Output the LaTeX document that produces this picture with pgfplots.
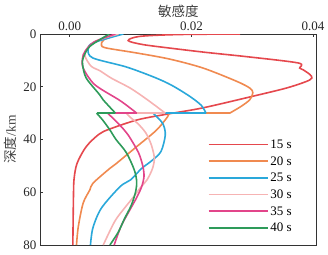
\documentclass[border=0pt]{standalone}
\usepackage{fontspec}
\setmainfont{Liberation Serif}
\newfontfamily\cjk{Noto Sans CJK SC}
\usepackage{pgfplots}
\pgfplotsset{compat=1.18}
\definecolor{cA}{HTML}{E5484D}
\definecolor{cB}{HTML}{F08A50}
\definecolor{cC}{HTML}{2AA8DA}
\definecolor{cD}{HTML}{F6B3B3}
\definecolor{cE}{HTML}{E2458A}
\definecolor{cF}{HTML}{2E9B5A}
\begin{document}
\begin{tikzpicture}
\begin{axis}[
  scale only axis, width=276.7pt, height=211pt,
  xmin=-0.0049, xmax=0.0406, ymin=0, ymax=80, y dir=reverse,
  xtick={0,0.02,0.04}, ytick={0,20,40,60,80},
  scaled x ticks=false,
  xticklabel style={/pgf/number format/.cd,fixed,fixed zerofill,precision=2},
  /pgf/number format/assume math mode=true,
  xticklabel pos=upper, xtick pos=upper, ytick pos=left,
  tick align=inside, major tick length=2.5pt,
  tick label style={font=\fontsize{13}{15}\selectfont, text=black!85},
  xlabel={{\cjk 敏感度}}, ylabel={{\cjk 深度}/km},
  label style={font=\fontsize{13.5}{15}\selectfont, text=black!75},
  xlabel style={yshift=-3pt},
  axis line style={black!80, line width=0.8pt},
  every tick/.style={black!80, line width=0.6pt},
  legend style={draw=none, fill=none, at={(0.595,0.52)}, anchor=north west,
    font=\fontsize{13}{15}\selectfont, row sep=2.7pt,
    nodes={text height=9pt, text depth=1pt, inner sep=2pt}},
  legend image code/.code={\draw[#1] (0pt,0pt) -- (59pt,0pt);},
  legend cell align=left,
  lw/.style={line width=1.6pt},
]
\coordinate (ll) at (axis description cs:0,0);
\coordinate (ur) at (axis description cs:1,1);
% 15 s
\addplot[cA, lw, smooth] coordinates {(0.0280,0) (0.0180,0.2) (0.0115,0.9) (0.0096,2.5) (0.0120,4.0) (0.0170,5.5) (0.0225,7.0) (0.0295,8.7) (0.0376,11.0) (0.0378,12.9) (0.0384,13.6) (0.0395,15.4) (0.0398,16.7) (0.0389,18.0) (0.0356,20.5) (0.0301,23.6) (0.0219,28.0) (0.0162,30.3) (0.0112,32.5) (0.0066,36.0) (0.0048,38.0) (0.0027,42.7) (0.0012,49) (0.0007,55) (0.0006,62) (0.0005,80)};
\addlegendentry{15 s}
% 20 s
\addplot[cB, lw, smooth] coordinates {(0.0080,0) (0.0056,2.2) (0.0052,4.2) (0.0060,5.3) (0.0110,7.2) (0.0164,9.5) (0.0219,12.9) (0.0274,17.9) (0.0296,20.5) (0.0301,22.3) (0.0296,24.9) (0.0282,27.4) (0.0263,30)};
\addlegendentry{20 s}
\addplot[cB, lw, forget plot] coordinates {(0.0263,30) (0.0163,30)};
\addplot[cB, lw, smooth, forget plot] coordinates {(0.0163,30) (0.0161,31.3) (0.0148,35.1) (0.0137,37.6) (0.0110,42.7) (0.0077,49) (0.0063,51.5) (0.0038,56.6) (0.0033,59.1) (0.0022,64.1) (0.0014,73) (0.0011,80)};
% 25 s
\addplot[cC, lw, smooth] coordinates {(0.0088,0) (0.0038,3.4) (0.0030,5.9) (0.0038,9.1) (0.0093,12.5) (0.0140,16.5) (0.0168,19.5) (0.0197,23.6) (0.0216,27) (0.0224,30)};
\addlegendentry{25 s}
\addplot[cC, lw, forget plot] coordinates {(0.0224,30) (0.0137,30)};
\addplot[cC, lw, smooth, forget plot] coordinates {(0.0137,30) (0.0140,30.7) (0.0153,34) (0.0157,38.3) (0.0150,44.5) (0.0135,48) (0.0118,51) (0.0100,55.3) (0.0083,57.8) (0.0052,66) (0.0038,73.5) (0.0034,80)};
% 30 s
\addplot[cD, lw, smooth] coordinates {(0.0080,0) (0.0045,2.5) (0.0027,5.9) (0.0025,8.4) (0.0035,12.2) (0.0050,14) (0.0068,16.7) (0.0100,20.6) (0.0128,25) (0.0157,30)};
\addlegendentry{30 s}
\addplot[cD, lw, forget plot] coordinates {(0.0157,30) (0.0093,30)};
\addplot[cD, lw, smooth, forget plot] coordinates {(0.0093,30) (0.0099,31.5) (0.0112,34) (0.0125,37.5) (0.0134,42) (0.0139,47) (0.0136,51) (0.0127,55.3) (0.0117,58) (0.0104,62) (0.0090,66) (0.0074,71) (0.0055,80)};
% 35 s
\addplot[cE, lw, smooth] coordinates {(0.0075,0) (0.0040,3) (0.0025,6.6) (0.0021,9.1) (0.0022,12.9) (0.0041,19.2) (0.0083,25.3) (0.0110,30)};
\addlegendentry{35 s}
\addplot[cE, lw, forget plot] coordinates {(0.0110,30) (0.0062,30)};
\addplot[cE, lw, smooth, forget plot] coordinates {(0.0062,30) (0.0074,32.6) (0.0088,36) (0.0098,39) (0.0113,45) (0.0120,50) (0.0122,54) (0.0118,58) (0.0110,62) (0.0098,67) (0.0084,73) (0.0073,80)};
% 40 s
\addplot[cF, lw, smooth] coordinates {(0.0065,0) (0.0033,4.7) (0.0022,9.1) (0.0021,11.6) (0.0027,16.7) (0.0049,23) (0.0055,25) (0.0075,30)};
\addlegendentry{40 s}
\addplot[cF, lw, forget plot] coordinates {(0.0075,30) (0.0044,30)};
\addplot[cF, lw, smooth, forget plot] coordinates {(0.0044,30) (0.0054,32.6) (0.0066,36.4) (0.0076,40) (0.0093,45) (0.0106,51.5) (0.0110,56) (0.0108,60) (0.0101,65) (0.0090,70) (0.0080,75) (0.0066,80)};
\end{axis}
\path ([shift={(-40pt,-9pt)}]ll) rectangle ([shift={(11.3pt,34pt)}]ur);
\end{tikzpicture}
\end{document}
